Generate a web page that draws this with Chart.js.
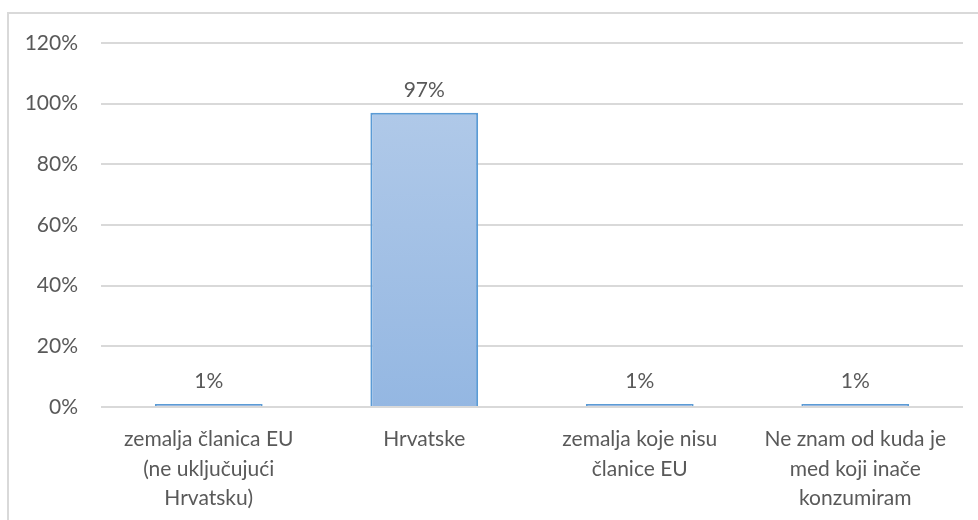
<!DOCTYPE html>
<html>
<head>
<meta charset="utf-8">
<script src="https://cdn.jsdelivr.net/npm/chart.js@4"></script>
<style>
html,body{margin:0;padding:0;background:#fff;overflow:hidden;width:978px;height:520px;}
#frame{position:absolute;left:7px;top:12px;width:1000px;height:600px;border:2px solid #d9d9d9;box-sizing:border-box;}
#wrap{position:absolute;left:0;top:0;width:978px;height:520px;}
</style>
</head>
<body>
<div id="frame"></div>
<div id="wrap"><canvas id="c" width="978" height="520"></canvas></div>
<script>
const categories = [
  ["zemalja članica EU", "(ne uključujući", "Hrvatsku)"],
  ["Hrvatske"],
  ["zemalja koje nisu", "članice EU"],
  ["Ne znam od kuda je", "med koji inače", "konzumiram"]
];
const values = [1, 97, 1, 1];
const yTicks = [0, 20, 40, 60, 80, 100, 120];

const FONT = "Lato, 'Open Sans', sans-serif";
const TXT = "#595959";

const dataLabels = {
  id: 'dataLabels',
  afterDatasetsDraw(chart) {
    const ctx = chart.ctx;
    const meta = chart.getDatasetMeta(0);
    ctx.save();
    ctx.font = "21px " + FONT;
    ctx.fillStyle = TXT;
    ctx.textAlign = 'center';
    ctx.textBaseline = 'alphabetic';
    meta.data.forEach((bar, i) => {
      ctx.fillText(values[i] + '%', bar.x, bar.y - 16);
    });
    ctx.restore();
  }
};

new Chart(document.getElementById('c'), {
  type: 'bar',
  data: {
    labels: categories,
    datasets: [{
      data: values,
      backgroundColor: (context) => {
        const chart = context.chart;
        const area = chart.chartArea;
        if (!area) return '#9dbde4';
        const g = chart.ctx.createLinearGradient(0, area.top, 0, area.bottom);
        g.addColorStop(0, '#b6cdea');
        g.addColorStop(1, '#94b7e2');
        return g;
      },
      borderColor: '#5b9bd5',
      borderWidth: 2,
      borderSkipped: 'bottom',
      categoryPercentage: 1.0,
      barPercentage: 0.5
    }]
  },
  options: {
    responsive: false,
    animation: false,
    layout: { padding: { left: 0, top: 43, right: 15, bottom: 0 } },
    plugins: { legend: { display: false }, tooltip: { enabled: false } },
    scales: {
      y: {
        min: 0, max: 120,
        afterFit(scale) { scale.width = 101; },
        afterBuildTicks(scale) { scale.ticks = yTicks.map(v => ({ value: v })); },
        ticks: {
          callback: v => v + '%',
          color: TXT,
          font: { family: FONT, size: 21 },
          padding: 23
        },
        grid: { color: '#d9d9d9', lineWidth: 2, drawTicks: false },
        border: { display: false }
      },
      x: {
        afterFit(scale) { scale.height = 113; },
        ticks: {
          color: TXT,
          font: { family: FONT, size: 21, lineHeight: 1.4 },
          padding: 18,
          maxRotation: 0,
          autoSkip: false
        },
        grid: { display: false, drawTicks: false },
        border: { display: false }
      }
    }
  },
  plugins: [dataLabels]
});
</script>
</body>
</html>
